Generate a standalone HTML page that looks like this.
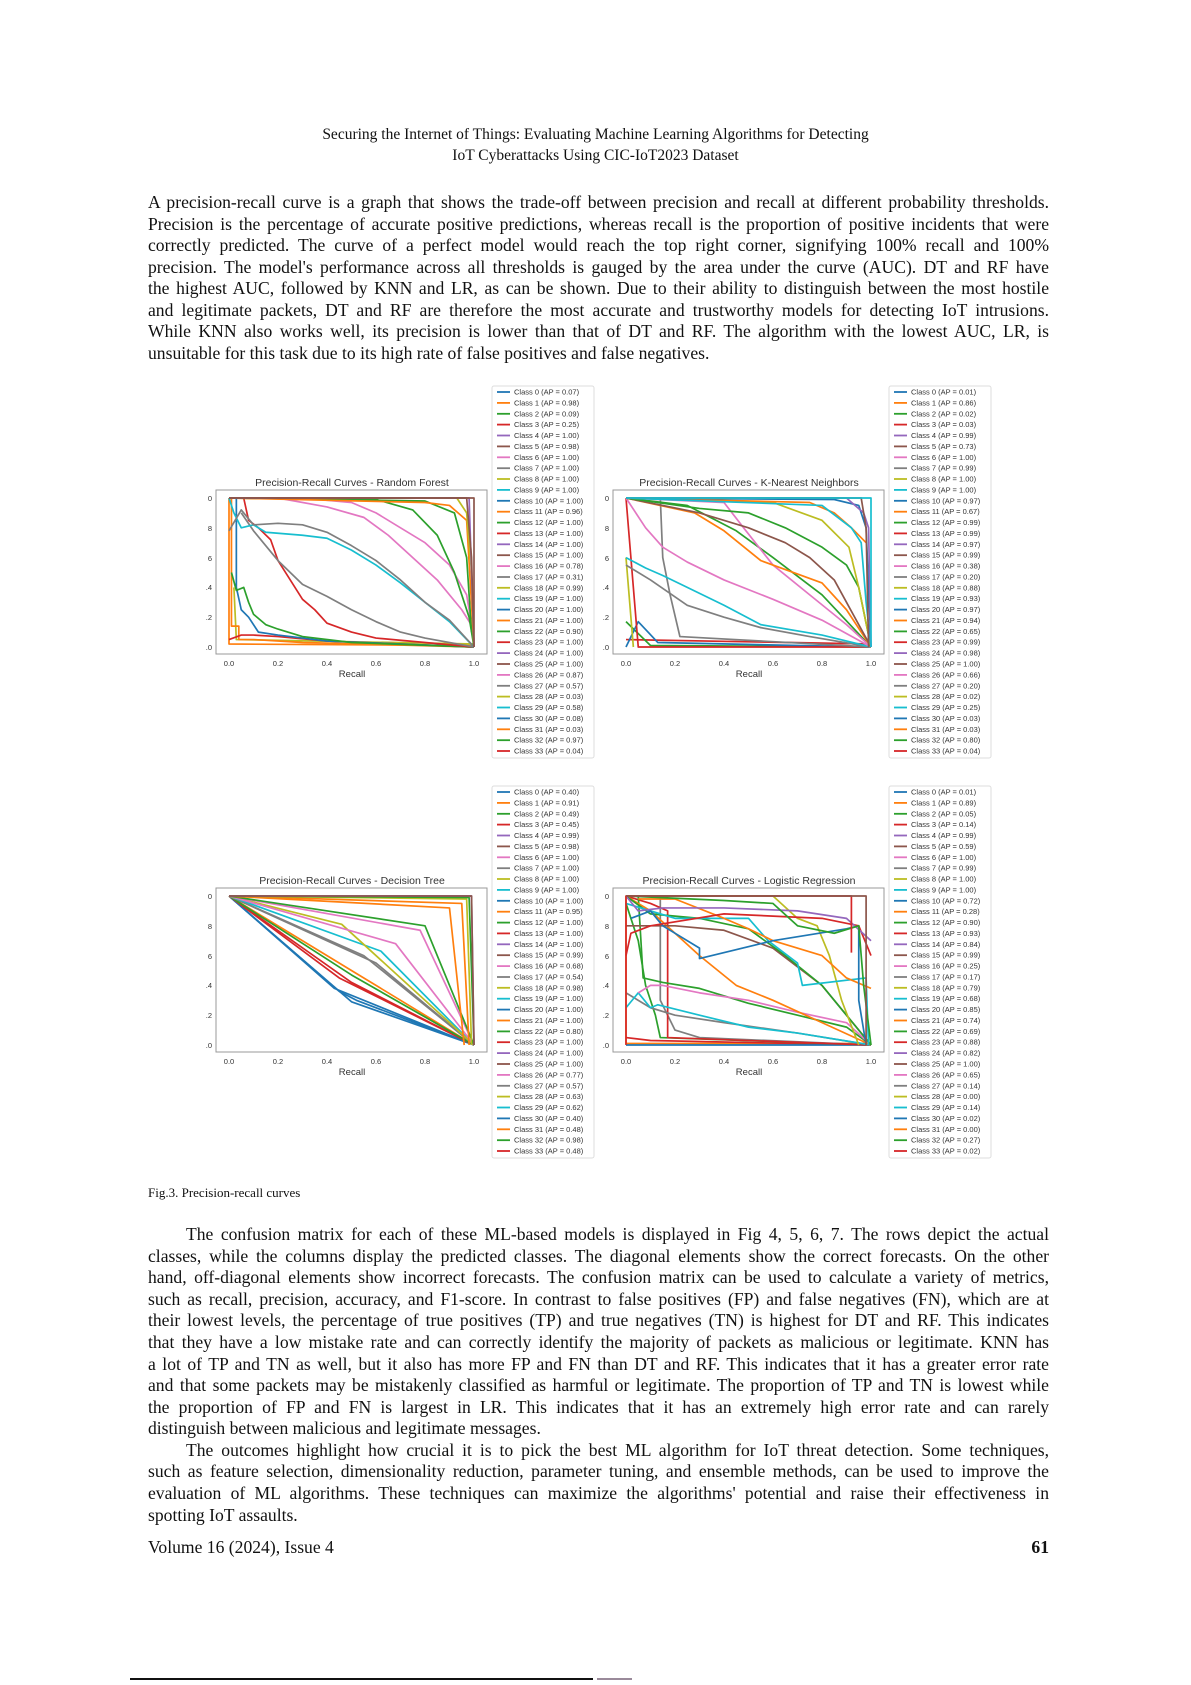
<!DOCTYPE html>
<html><head><meta charset="utf-8"><style>
html,body{margin:0;padding:0;background:#fff;}
#pg{position:relative;width:1191px;height:1685px;overflow:hidden;background:#fff;font-family:"Liberation Serif",serif;color:#111;}
.l{position:absolute;left:148px;width:901px;height:22px;line-height:22px;font-size:17.6px;white-space:nowrap;text-align:justify;text-align-last:justify;}
.l.e{text-align-last:left;}
.h{position:absolute;left:0;width:1191px;text-align:center;font-size:15.5px;line-height:18px;}
svg{position:absolute;left:0;top:0;}
svg text{font-family:"Liberation Sans",sans-serif;fill:#333;}
.c polyline{fill:none;stroke-width:1.7;vector-effect:non-scaling-stroke;stroke-linejoin:round;}
.lg text{font-size:7.5px;}
.lg line{stroke-width:1.8;}
</style></head><body><div id="pg">
<div class="h" style="top:126px">Securing the Internet of Things: Evaluating Machine Learning Algorithms for Detecting</div>
<div class="h" style="top:147px">IoT Cyberattacks Using CIC-IoT2023 Dataset</div>

<div class="l" style="top:191px">A precision-recall curve is a graph that shows the trade-off between precision and recall at different probability thresholds.</div>
<div class="l" style="top:213px">Precision is the percentage of accurate positive predictions, whereas recall is the proportion of positive incidents that were</div>
<div class="l" style="top:234px">correctly predicted. The curve of a perfect model would reach the top right corner, signifying 100% recall and 100%</div>
<div class="l" style="top:256px">precision. The model's performance across all thresholds is gauged by the area under the curve (AUC). DT and RF have</div>
<div class="l" style="top:277px">the highest AUC, followed by KNN and LR, as can be shown. Due to their ability to distinguish between the most hostile</div>
<div class="l" style="top:299px">and legitimate packets, DT and RF are therefore the most accurate and trustworthy models for detecting IoT intrusions.</div>
<div class="l" style="top:320px">While KNN also works well, its precision is lower than that of DT and RF. The algorithm with the lowest AUC, LR, is</div>
<div class="l e" style="top:342px">unsuitable for this task due to its high rate of false positives and false negatives.</div>

<div style="position:absolute;left:148px;top:1184px;font-size:13px;line-height:18px;">Fig.3. Precision-recall curves</div>

<div class="l" style="top:1223px;left:186px;width:863px">The confusion matrix for each of these ML-based models is displayed in Fig 4, 5, 6, 7. The rows depict the actual</div>
<div class="l" style="top:1245px">classes, while the columns display the predicted classes. The diagonal elements show the correct forecasts. On the other</div>
<div class="l" style="top:1266px">hand, off-diagonal elements show incorrect forecasts. The confusion matrix can be used to calculate a variety of metrics,</div>
<div class="l" style="top:1288px">such as recall, precision, accuracy, and F1-score. In contrast to false positives (FP) and false negatives (FN), which are at</div>
<div class="l" style="top:1309px">their lowest levels, the percentage of true positives (TP) and true negatives (TN) is highest for DT and RF. This indicates</div>
<div class="l" style="top:1331px">that they have a low mistake rate and can correctly identify the majority of packets as malicious or legitimate. KNN has</div>
<div class="l" style="top:1353px">a lot of TP and TN as well, but it also has more FP and FN than DT and RF. This indicates that it has a greater error rate</div>
<div class="l" style="top:1374px">and that some packets may be mistakenly classified as harmful or legitimate. The proportion of TP and TN is lowest while</div>
<div class="l" style="top:1396px">the proportion of FP and FN is largest in LR. This indicates that it has an extremely high error rate and can rarely</div>
<div class="l e" style="top:1417px">distinguish between malicious and legitimate messages.</div>
<div class="l" style="top:1439px;left:186px;width:863px">The outcomes highlight how crucial it is to pick the best ML algorithm for IoT threat detection. Some techniques,</div>
<div class="l" style="top:1460px">such as feature selection, dimensionality reduction, parameter tuning, and ensemble methods, can be used to improve the</div>
<div class="l" style="top:1482px">evaluation of ML algorithms. These techniques can maximize the algorithms' potential and raise their effectiveness in</div>
<div class="l e" style="top:1504px">spotting IoT assaults.</div>

<div style="position:absolute;left:148px;top:1536px;font-size:17.6px;line-height:22px;">Volume 16 (2024), Issue 4</div>
<div style="position:absolute;left:949px;width:100px;text-align:right;top:1536px;font-size:17.6px;line-height:22px;font-weight:bold;">61</div>
<div style="position:absolute;left:130px;top:1678px;width:463px;height:2px;background:#111;"></div>
<div style="position:absolute;left:597px;top:1678px;width:35px;height:2px;background:#9a8a9a;"></div>

<svg width="1191" height="1685" viewBox="0 0 1191 1685">
<defs>
<g id="ax">
<rect x="216" y="490" width="271" height="164" fill="none" stroke="#999" stroke-width="1"/>
<g font-size="7.5" text-anchor="end">
<text x="212" y="501">0</text><text x="212" y="531">8</text><text x="212" y="561">6</text><text x="212" y="590">.4</text><text x="212" y="620">.2</text><text x="212" y="650">.0</text>
</g>
<g font-size="7.5" text-anchor="middle">
<text x="229" y="666">0.0</text><text x="278" y="666">0.2</text><text x="327" y="666">0.4</text><text x="376" y="666">0.6</text><text x="425" y="666">0.8</text><text x="474" y="666">1.0</text>
<text x="352" y="677" font-size="9.5">Recall</text>
</g>
</g>
</defs>

<g>
<use href="#ax"/>
<text x="352" y="486" font-size="10.5" text-anchor="middle">Precision-Recall Curves - Random Forest</text>
<g class="c" transform="translate(229,647) scale(2.45,-1.49)">
<polyline stroke="#ff7f0e" points="0,100 0,2 100,1"/>
<polyline stroke="#bcbd22" points="2,40 3,5 100,2"/>
<polyline stroke="#ff7f0e" points="1,100 1,14 4,14 4,5 10,5 30,3 100,0"/>
<polyline stroke="#d62728" points="0,5 5,8 10,8 20,7 40,4 100,0"/>
<polyline stroke="#1f77b4" points="3,100 3,40 5,25 8,20 12,10 20,8 40,4 100,0"/>
<polyline stroke="#2ca02c" points="1,50 3,38 6,40 8,30 10,22 15,15 20,12 30,7 50,3 100,0"/>
<polyline stroke="#d62728" points="6,100 8,85 12,80 17,72 20,58 25,45 30,32 35,25 40,16 50,10 60,6 80,3 100,0"/>
<polyline stroke="#7f7f7f" points="5,90 10,78 15,68 20,58 30,42 40,34 50,25 60,17 70,10 80,6 100,0"/>
<polyline stroke="#17becf" points="0,100 2,90 5,80 10,82 15,77 30,75 40,73 50,65 60,55 70,43 80,30 90,17 100,0"/>
<polyline stroke="#7f7f7f" points="0,78 5,92 10,82 20,83 30,82 40,77 50,68 60,58 70,45 80,30 90,18 100,0"/>
<polyline stroke="#e377c2" points="0,100 30,100 50,97 60,90 70,80 80,70 90,55 97,35 100,5"/>
<polyline stroke="#e377c2" points="0,100 20,100 40,94 55,87 65,75 75,60 85,45 95,25 100,12"/>
<polyline stroke="#2ca02c" points="0,100 60,99 75,92 85,75 92,50 98,20 100,0"/>
<polyline stroke="#2ca02c" points="0,100 80,98 92,90 97,60 99,10"/>
<polyline stroke="#ff7f0e" points="0,100 80,97 90,95 97,85 100,0"/>
<polyline stroke="#bcbd22" points="0,100 93,100 97,90 99,50 100,0"/>
<polyline stroke="#9467bd" points="0,100 98,100 100,0"/>
<polyline stroke="#8c564b" points="0,100 97,100 99,60 100,0"/>
<polyline stroke="#8c564b" points="0,100 100,100 100,0"/>
</g>
</g>

<g transform="translate(397,0)">
<use href="#ax"/>
<text x="352" y="486" font-size="10.5" text-anchor="middle">Precision-Recall Curves - K-Nearest Neighbors</text>
<g class="c" transform="translate(229,647) scale(2.45,-1.49)">
<polyline stroke="#d62728" points="0,5 100,2"/>
<polyline stroke="#2ca02c" points="0,17 10,1 100,0"/>
<polyline stroke="#1f77b4" points="0,0 5,17 13,3 100,0"/>
<polyline stroke="#bcbd22" points="0,60 3,0"/>
<polyline stroke="#d62728" points="0,100 5,0 100,0"/>
<polyline stroke="#7f7f7f" points="14,100 15,60 18,35 22,7 100,0"/>
<polyline stroke="#7f7f7f" points="0,55 10,45 25,28 40,20 55,13 75,7 100,0"/>
<polyline stroke="#17becf" points="0,60 8,53 15,48 25,40 40,28 55,15 80,8 100,0"/>
<polyline stroke="#e377c2" points="0,100 8,80 15,67 25,57 40,45 60,32 80,18 100,0"/>
<polyline stroke="#2ca02c" points="0,100 25,95 45,78 60,60 80,35 100,0"/>
<polyline stroke="#e377c2" points="0,100 40,97 48,80 60,55 75,35 90,15 100,0"/>
<polyline stroke="#ff7f0e" points="0,100 28,90 40,78 55,58 80,43 90,25 100,0"/>
<polyline stroke="#8c564b" points="0,100 30,90 50,80 65,70 75,60 85,45 100,0"/>
<polyline stroke="#2ca02c" points="0,100 30,93 50,90 65,80 80,67 90,55 95,40 100,0"/>
<polyline stroke="#bcbd22" points="0,100 60,97 80,85 91,67 95,40 100,0"/>
<polyline stroke="#ff7f0e" points="0,100 75,97 85,90 92,80 98,70"/>
<polyline stroke="#17becf" points="0,100 80,95 92,80 96,70 98,30 100,0"/>
<polyline stroke="#1f77b4" points="0,100 85,99 95,95 98,80 100,0"/>
<polyline stroke="#9467bd" points="0,100 90,100 97,90 99,80 100,0"/>
<polyline stroke="#8c564b" points="0,100 96,100 98,80 99,0"/>
<polyline stroke="#17becf" points="0,100 100,100 100,0"/>
</g>
</g>

<g transform="translate(0,398)">
<use href="#ax"/>
<text x="352" y="486" font-size="10.5" text-anchor="middle">Precision-Recall Curves - Decision Tree</text>
<g class="c" transform="translate(229,647) scale(2.45,-1.49)">
<polyline stroke="#1f77b4" points="0,100 43,38 100,0"/>
<polyline stroke="#1f77b4" points="0,100 45,36 52,30 100,0"/>
<polyline stroke="#1f77b4" points="0,100 50,29 100,0"/>
<polyline stroke="#d62728" points="0,100 50,42 100,0"/>
<polyline stroke="#d62728" points="0,100 45,45 100,0"/>
<polyline stroke="#ff7f0e" points="0,100 52,48 100,0"/>
<polyline stroke="#2ca02c" points="0,100 50,47 100,0"/>
<polyline stroke="#7f7f7f" points="0,100 60,55 100,0"/>
<polyline stroke="#7f7f7f" points="0,100 55,60 100,0"/>
<polyline stroke="#17becf" points="0,100 62,63 100,0"/>
<polyline stroke="#bcbd22" points="0,100 46,81 100,0"/>
<polyline stroke="#e377c2" points="0,100 68,68 100,0"/>
<polyline stroke="#e377c2" points="0,100 78,77 100,0"/>
<polyline stroke="#2ca02c" points="0,100 80,80 100,0"/>
<polyline stroke="#ff7f0e" points="0,100 90,92 96,0"/>
<polyline stroke="#ff7f0e" points="0,100 95,95 98,0"/>
<polyline stroke="#bcbd22" points="0,100 97,98 99,0"/>
<polyline stroke="#2ca02c" points="0,100 98,99 100,0"/>
<polyline stroke="#9467bd" points="0,100 99,100 100,0"/>
<polyline stroke="#8c564b" points="0,100 99,100 100,0"/>
</g>
</g>

<g transform="translate(397,398)">
<use href="#ax"/>
<text x="352" y="486" font-size="10.5" text-anchor="middle">Precision-Recall Curves - Logistic Regression</text>
<g class="c" transform="translate(229,647) scale(2.45,-1.49)">
<polyline stroke="#ff7f0e" points="0,100 0,1 100,1"/>
<polyline stroke="#d62728" points="0,5 10,3 100,0"/>
<polyline stroke="#1f77b4" points="0,0 100,0"/>
<polyline stroke="#2ca02c" points="0,95 5,70 8,40 12,20 14,5 100,0"/>
<polyline stroke="#7f7f7f" points="14,100 14,30 20,10 30,5 100,0"/>
<polyline stroke="#d62728" points="0,100 10,95 17,90 17,5 100,0"/>
<polyline stroke="#7f7f7f" points="0,35 10,25 20,20 40,15 70,8 100,0"/>
<polyline stroke="#17becf" points="0,25 5,35 10,25 13,27 30,20 50,12 70,8 100,0"/>
<polyline stroke="#2ca02c" points="5,100 7,45 15,42 30,38 50,28 70,20 90,12 100,0"/>
<polyline stroke="#e377c2" points="5,35 10,40 15,40 30,35 50,30 70,22 90,15 100,0"/>
<polyline stroke="#ff7f0e" points="0,100 10,90 20,75 30,60 45,40 60,30 80,15 100,0"/>
<polyline stroke="#8c564b" points="0,80 10,80 20,80 40,77 60,65 80,40 95,10 100,0"/>
<polyline stroke="#2ca02c" points="0,100 10,88 30,85 50,78 65,60 80,40 100,0"/>
<polyline stroke="#bcbd22" points="0,100 60,100 70,85 78,80 83,60 88,30 95,0"/>
<polyline stroke="#17becf" points="0,95 20,85 50,85 58,70 70,55 72,40 98,45 99,0"/>
<polyline stroke="#ff7f0e" points="5,98 20,98 40,85 50,78 60,70 80,60 90,45 100,38"/>
<polyline stroke="#1f77b4" points="2,85 10,90 15,80 30,65 30,58 60,70 90,78 95,80 95,30 98,0"/>
<polyline stroke="#d62728" points="0,60 2,75 10,80 40,88 80,85 95,80 100,60"/>
<polyline stroke="#9467bd" points="0,100 5,90 15,92 40,92 70,90 90,85 100,70"/>
<polyline stroke="#2ca02c" points="0,100 40,97 60,95 70,80 85,75 95,80 97,40 100,0"/>
<polyline stroke="#d62728" points="0,0 0,100 92,100 92,62"/>
<polyline stroke="#8c564b" points="0,100 98,100 98,0"/>
</g>
</g>

<g class="lg">
<rect x="492" y="386" width="102" height="372" fill="#fff" stroke="#ddd" rx="2"/>
<line x1="497" x2="510" y1="392" y2="392" stroke="#1f77b4"/><text x="514" y="394.5">Class 0 (AP = 0.07)</text>
<line x1="497" x2="510" y1="402.9" y2="402.9" stroke="#ff7f0e"/><text x="514" y="405.4">Class 1 (AP = 0.98)</text>
<line x1="497" x2="510" y1="413.8" y2="413.8" stroke="#2ca02c"/><text x="514" y="416.3">Class 2 (AP = 0.09)</text>
<line x1="497" x2="510" y1="424.6" y2="424.6" stroke="#d62728"/><text x="514" y="427.1">Class 3 (AP = 0.25)</text>
<line x1="497" x2="510" y1="435.5" y2="435.5" stroke="#9467bd"/><text x="514" y="438">Class 4 (AP = 1.00)</text>
<line x1="497" x2="510" y1="446.4" y2="446.4" stroke="#8c564b"/><text x="514" y="448.9">Class 5 (AP = 0.98)</text>
<line x1="497" x2="510" y1="457.3" y2="457.3" stroke="#e377c2"/><text x="514" y="459.8">Class 6 (AP = 1.00)</text>
<line x1="497" x2="510" y1="468.2" y2="468.2" stroke="#7f7f7f"/><text x="514" y="470.7">Class 7 (AP = 1.00)</text>
<line x1="497" x2="510" y1="479" y2="479" stroke="#bcbd22"/><text x="514" y="481.5">Class 8 (AP = 1.00)</text>
<line x1="497" x2="510" y1="489.9" y2="489.9" stroke="#17becf"/><text x="514" y="492.4">Class 9 (AP = 1.00)</text>
<line x1="497" x2="510" y1="500.8" y2="500.8" stroke="#1f77b4"/><text x="514" y="503.3">Class 10 (AP = 1.00)</text>
<line x1="497" x2="510" y1="511.7" y2="511.7" stroke="#ff7f0e"/><text x="514" y="514.2">Class 11 (AP = 0.96)</text>
<line x1="497" x2="510" y1="522.6" y2="522.6" stroke="#2ca02c"/><text x="514" y="525.1">Class 12 (AP = 1.00)</text>
<line x1="497" x2="510" y1="533.4" y2="533.4" stroke="#d62728"/><text x="514" y="535.9">Class 13 (AP = 1.00)</text>
<line x1="497" x2="510" y1="544.3" y2="544.3" stroke="#9467bd"/><text x="514" y="546.8">Class 14 (AP = 1.00)</text>
<line x1="497" x2="510" y1="555.2" y2="555.2" stroke="#8c564b"/><text x="514" y="557.7">Class 15 (AP = 1.00)</text>
<line x1="497" x2="510" y1="566.1" y2="566.1" stroke="#e377c2"/><text x="514" y="568.6">Class 16 (AP = 0.78)</text>
<line x1="497" x2="510" y1="577" y2="577" stroke="#7f7f7f"/><text x="514" y="579.5">Class 17 (AP = 0.31)</text>
<line x1="497" x2="510" y1="587.8" y2="587.8" stroke="#bcbd22"/><text x="514" y="590.3">Class 18 (AP = 0.99)</text>
<line x1="497" x2="510" y1="598.7" y2="598.7" stroke="#17becf"/><text x="514" y="601.2">Class 19 (AP = 1.00)</text>
<line x1="497" x2="510" y1="609.6" y2="609.6" stroke="#1f77b4"/><text x="514" y="612.1">Class 20 (AP = 1.00)</text>
<line x1="497" x2="510" y1="620.5" y2="620.5" stroke="#ff7f0e"/><text x="514" y="623">Class 21 (AP = 1.00)</text>
<line x1="497" x2="510" y1="631.4" y2="631.4" stroke="#2ca02c"/><text x="514" y="633.9">Class 22 (AP = 0.90)</text>
<line x1="497" x2="510" y1="642.2" y2="642.2" stroke="#d62728"/><text x="514" y="644.7">Class 23 (AP = 1.00)</text>
<line x1="497" x2="510" y1="653.1" y2="653.1" stroke="#9467bd"/><text x="514" y="655.6">Class 24 (AP = 1.00)</text>
<line x1="497" x2="510" y1="664" y2="664" stroke="#8c564b"/><text x="514" y="666.5">Class 25 (AP = 1.00)</text>
<line x1="497" x2="510" y1="674.9" y2="674.9" stroke="#e377c2"/><text x="514" y="677.4">Class 26 (AP = 0.87)</text>
<line x1="497" x2="510" y1="685.8" y2="685.8" stroke="#7f7f7f"/><text x="514" y="688.3">Class 27 (AP = 0.57)</text>
<line x1="497" x2="510" y1="696.6" y2="696.6" stroke="#bcbd22"/><text x="514" y="699.1">Class 28 (AP = 0.03)</text>
<line x1="497" x2="510" y1="707.5" y2="707.5" stroke="#17becf"/><text x="514" y="710">Class 29 (AP = 0.58)</text>
<line x1="497" x2="510" y1="718.4" y2="718.4" stroke="#1f77b4"/><text x="514" y="720.9">Class 30 (AP = 0.08)</text>
<line x1="497" x2="510" y1="729.3" y2="729.3" stroke="#ff7f0e"/><text x="514" y="731.8">Class 31 (AP = 0.03)</text>
<line x1="497" x2="510" y1="740.2" y2="740.2" stroke="#2ca02c"/><text x="514" y="742.7">Class 32 (AP = 0.97)</text>
<line x1="497" x2="510" y1="751" y2="751" stroke="#d62728"/><text x="514" y="753.5">Class 33 (AP = 0.04)</text>
</g>

<g class="lg" transform="translate(397,0)">
<rect x="492" y="386" width="102" height="372" fill="#fff" stroke="#ddd" rx="2"/>
<line x1="497" x2="510" y1="392" y2="392" stroke="#1f77b4"/><text x="514" y="394.5">Class 0 (AP = 0.01)</text>
<line x1="497" x2="510" y1="402.9" y2="402.9" stroke="#ff7f0e"/><text x="514" y="405.4">Class 1 (AP = 0.86)</text>
<line x1="497" x2="510" y1="413.8" y2="413.8" stroke="#2ca02c"/><text x="514" y="416.3">Class 2 (AP = 0.02)</text>
<line x1="497" x2="510" y1="424.6" y2="424.6" stroke="#d62728"/><text x="514" y="427.1">Class 3 (AP = 0.03)</text>
<line x1="497" x2="510" y1="435.5" y2="435.5" stroke="#9467bd"/><text x="514" y="438">Class 4 (AP = 0.99)</text>
<line x1="497" x2="510" y1="446.4" y2="446.4" stroke="#8c564b"/><text x="514" y="448.9">Class 5 (AP = 0.73)</text>
<line x1="497" x2="510" y1="457.3" y2="457.3" stroke="#e377c2"/><text x="514" y="459.8">Class 6 (AP = 1.00)</text>
<line x1="497" x2="510" y1="468.2" y2="468.2" stroke="#7f7f7f"/><text x="514" y="470.7">Class 7 (AP = 0.99)</text>
<line x1="497" x2="510" y1="479" y2="479" stroke="#bcbd22"/><text x="514" y="481.5">Class 8 (AP = 1.00)</text>
<line x1="497" x2="510" y1="489.9" y2="489.9" stroke="#17becf"/><text x="514" y="492.4">Class 9 (AP = 1.00)</text>
<line x1="497" x2="510" y1="500.8" y2="500.8" stroke="#1f77b4"/><text x="514" y="503.3">Class 10 (AP = 0.97)</text>
<line x1="497" x2="510" y1="511.7" y2="511.7" stroke="#ff7f0e"/><text x="514" y="514.2">Class 11 (AP = 0.67)</text>
<line x1="497" x2="510" y1="522.6" y2="522.6" stroke="#2ca02c"/><text x="514" y="525.1">Class 12 (AP = 0.99)</text>
<line x1="497" x2="510" y1="533.4" y2="533.4" stroke="#d62728"/><text x="514" y="535.9">Class 13 (AP = 0.99)</text>
<line x1="497" x2="510" y1="544.3" y2="544.3" stroke="#9467bd"/><text x="514" y="546.8">Class 14 (AP = 0.97)</text>
<line x1="497" x2="510" y1="555.2" y2="555.2" stroke="#8c564b"/><text x="514" y="557.7">Class 15 (AP = 0.99)</text>
<line x1="497" x2="510" y1="566.1" y2="566.1" stroke="#e377c2"/><text x="514" y="568.6">Class 16 (AP = 0.38)</text>
<line x1="497" x2="510" y1="577" y2="577" stroke="#7f7f7f"/><text x="514" y="579.5">Class 17 (AP = 0.20)</text>
<line x1="497" x2="510" y1="587.8" y2="587.8" stroke="#bcbd22"/><text x="514" y="590.3">Class 18 (AP = 0.88)</text>
<line x1="497" x2="510" y1="598.7" y2="598.7" stroke="#17becf"/><text x="514" y="601.2">Class 19 (AP = 0.93)</text>
<line x1="497" x2="510" y1="609.6" y2="609.6" stroke="#1f77b4"/><text x="514" y="612.1">Class 20 (AP = 0.97)</text>
<line x1="497" x2="510" y1="620.5" y2="620.5" stroke="#ff7f0e"/><text x="514" y="623">Class 21 (AP = 0.94)</text>
<line x1="497" x2="510" y1="631.4" y2="631.4" stroke="#2ca02c"/><text x="514" y="633.9">Class 22 (AP = 0.65)</text>
<line x1="497" x2="510" y1="642.2" y2="642.2" stroke="#d62728"/><text x="514" y="644.7">Class 23 (AP = 0.99)</text>
<line x1="497" x2="510" y1="653.1" y2="653.1" stroke="#9467bd"/><text x="514" y="655.6">Class 24 (AP = 0.98)</text>
<line x1="497" x2="510" y1="664" y2="664" stroke="#8c564b"/><text x="514" y="666.5">Class 25 (AP = 1.00)</text>
<line x1="497" x2="510" y1="674.9" y2="674.9" stroke="#e377c2"/><text x="514" y="677.4">Class 26 (AP = 0.66)</text>
<line x1="497" x2="510" y1="685.8" y2="685.8" stroke="#7f7f7f"/><text x="514" y="688.3">Class 27 (AP = 0.20)</text>
<line x1="497" x2="510" y1="696.6" y2="696.6" stroke="#bcbd22"/><text x="514" y="699.1">Class 28 (AP = 0.02)</text>
<line x1="497" x2="510" y1="707.5" y2="707.5" stroke="#17becf"/><text x="514" y="710">Class 29 (AP = 0.25)</text>
<line x1="497" x2="510" y1="718.4" y2="718.4" stroke="#1f77b4"/><text x="514" y="720.9">Class 30 (AP = 0.03)</text>
<line x1="497" x2="510" y1="729.3" y2="729.3" stroke="#ff7f0e"/><text x="514" y="731.8">Class 31 (AP = 0.03)</text>
<line x1="497" x2="510" y1="740.2" y2="740.2" stroke="#2ca02c"/><text x="514" y="742.7">Class 32 (AP = 0.80)</text>
<line x1="497" x2="510" y1="751" y2="751" stroke="#d62728"/><text x="514" y="753.5">Class 33 (AP = 0.04)</text>
</g>

<g class="lg" transform="translate(0,400)">
<rect x="492" y="386" width="102" height="372" fill="#fff" stroke="#ddd" rx="2"/>
<line x1="497" x2="510" y1="392" y2="392" stroke="#1f77b4"/><text x="514" y="394.5">Class 0 (AP = 0.40)</text>
<line x1="497" x2="510" y1="402.9" y2="402.9" stroke="#ff7f0e"/><text x="514" y="405.4">Class 1 (AP = 0.91)</text>
<line x1="497" x2="510" y1="413.8" y2="413.8" stroke="#2ca02c"/><text x="514" y="416.3">Class 2 (AP = 0.49)</text>
<line x1="497" x2="510" y1="424.6" y2="424.6" stroke="#d62728"/><text x="514" y="427.1">Class 3 (AP = 0.45)</text>
<line x1="497" x2="510" y1="435.5" y2="435.5" stroke="#9467bd"/><text x="514" y="438">Class 4 (AP = 0.99)</text>
<line x1="497" x2="510" y1="446.4" y2="446.4" stroke="#8c564b"/><text x="514" y="448.9">Class 5 (AP = 0.98)</text>
<line x1="497" x2="510" y1="457.3" y2="457.3" stroke="#e377c2"/><text x="514" y="459.8">Class 6 (AP = 1.00)</text>
<line x1="497" x2="510" y1="468.2" y2="468.2" stroke="#7f7f7f"/><text x="514" y="470.7">Class 7 (AP = 1.00)</text>
<line x1="497" x2="510" y1="479" y2="479" stroke="#bcbd22"/><text x="514" y="481.5">Class 8 (AP = 1.00)</text>
<line x1="497" x2="510" y1="489.9" y2="489.9" stroke="#17becf"/><text x="514" y="492.4">Class 9 (AP = 1.00)</text>
<line x1="497" x2="510" y1="500.8" y2="500.8" stroke="#1f77b4"/><text x="514" y="503.3">Class 10 (AP = 1.00)</text>
<line x1="497" x2="510" y1="511.7" y2="511.7" stroke="#ff7f0e"/><text x="514" y="514.2">Class 11 (AP = 0.95)</text>
<line x1="497" x2="510" y1="522.6" y2="522.6" stroke="#2ca02c"/><text x="514" y="525.1">Class 12 (AP = 1.00)</text>
<line x1="497" x2="510" y1="533.4" y2="533.4" stroke="#d62728"/><text x="514" y="535.9">Class 13 (AP = 1.00)</text>
<line x1="497" x2="510" y1="544.3" y2="544.3" stroke="#9467bd"/><text x="514" y="546.8">Class 14 (AP = 1.00)</text>
<line x1="497" x2="510" y1="555.2" y2="555.2" stroke="#8c564b"/><text x="514" y="557.7">Class 15 (AP = 0.99)</text>
<line x1="497" x2="510" y1="566.1" y2="566.1" stroke="#e377c2"/><text x="514" y="568.6">Class 16 (AP = 0.68)</text>
<line x1="497" x2="510" y1="577" y2="577" stroke="#7f7f7f"/><text x="514" y="579.5">Class 17 (AP = 0.54)</text>
<line x1="497" x2="510" y1="587.8" y2="587.8" stroke="#bcbd22"/><text x="514" y="590.3">Class 18 (AP = 0.98)</text>
<line x1="497" x2="510" y1="598.7" y2="598.7" stroke="#17becf"/><text x="514" y="601.2">Class 19 (AP = 1.00)</text>
<line x1="497" x2="510" y1="609.6" y2="609.6" stroke="#1f77b4"/><text x="514" y="612.1">Class 20 (AP = 1.00)</text>
<line x1="497" x2="510" y1="620.5" y2="620.5" stroke="#ff7f0e"/><text x="514" y="623">Class 21 (AP = 1.00)</text>
<line x1="497" x2="510" y1="631.4" y2="631.4" stroke="#2ca02c"/><text x="514" y="633.9">Class 22 (AP = 0.80)</text>
<line x1="497" x2="510" y1="642.2" y2="642.2" stroke="#d62728"/><text x="514" y="644.7">Class 23 (AP = 1.00)</text>
<line x1="497" x2="510" y1="653.1" y2="653.1" stroke="#9467bd"/><text x="514" y="655.6">Class 24 (AP = 1.00)</text>
<line x1="497" x2="510" y1="664" y2="664" stroke="#8c564b"/><text x="514" y="666.5">Class 25 (AP = 1.00)</text>
<line x1="497" x2="510" y1="674.9" y2="674.9" stroke="#e377c2"/><text x="514" y="677.4">Class 26 (AP = 0.77)</text>
<line x1="497" x2="510" y1="685.8" y2="685.8" stroke="#7f7f7f"/><text x="514" y="688.3">Class 27 (AP = 0.57)</text>
<line x1="497" x2="510" y1="696.6" y2="696.6" stroke="#bcbd22"/><text x="514" y="699.1">Class 28 (AP = 0.63)</text>
<line x1="497" x2="510" y1="707.5" y2="707.5" stroke="#17becf"/><text x="514" y="710">Class 29 (AP = 0.62)</text>
<line x1="497" x2="510" y1="718.4" y2="718.4" stroke="#1f77b4"/><text x="514" y="720.9">Class 30 (AP = 0.40)</text>
<line x1="497" x2="510" y1="729.3" y2="729.3" stroke="#ff7f0e"/><text x="514" y="731.8">Class 31 (AP = 0.48)</text>
<line x1="497" x2="510" y1="740.2" y2="740.2" stroke="#2ca02c"/><text x="514" y="742.7">Class 32 (AP = 0.98)</text>
<line x1="497" x2="510" y1="751" y2="751" stroke="#d62728"/><text x="514" y="753.5">Class 33 (AP = 0.48)</text>
</g>

<g class="lg" transform="translate(397,400)">
<rect x="492" y="386" width="102" height="372" fill="#fff" stroke="#ddd" rx="2"/>
<line x1="497" x2="510" y1="392" y2="392" stroke="#1f77b4"/><text x="514" y="394.5">Class 0 (AP = 0.01)</text>
<line x1="497" x2="510" y1="402.9" y2="402.9" stroke="#ff7f0e"/><text x="514" y="405.4">Class 1 (AP = 0.89)</text>
<line x1="497" x2="510" y1="413.8" y2="413.8" stroke="#2ca02c"/><text x="514" y="416.3">Class 2 (AP = 0.05)</text>
<line x1="497" x2="510" y1="424.6" y2="424.6" stroke="#d62728"/><text x="514" y="427.1">Class 3 (AP = 0.14)</text>
<line x1="497" x2="510" y1="435.5" y2="435.5" stroke="#9467bd"/><text x="514" y="438">Class 4 (AP = 0.99)</text>
<line x1="497" x2="510" y1="446.4" y2="446.4" stroke="#8c564b"/><text x="514" y="448.9">Class 5 (AP = 0.59)</text>
<line x1="497" x2="510" y1="457.3" y2="457.3" stroke="#e377c2"/><text x="514" y="459.8">Class 6 (AP = 1.00)</text>
<line x1="497" x2="510" y1="468.2" y2="468.2" stroke="#7f7f7f"/><text x="514" y="470.7">Class 7 (AP = 0.99)</text>
<line x1="497" x2="510" y1="479" y2="479" stroke="#bcbd22"/><text x="514" y="481.5">Class 8 (AP = 1.00)</text>
<line x1="497" x2="510" y1="489.9" y2="489.9" stroke="#17becf"/><text x="514" y="492.4">Class 9 (AP = 1.00)</text>
<line x1="497" x2="510" y1="500.8" y2="500.8" stroke="#1f77b4"/><text x="514" y="503.3">Class 10 (AP = 0.72)</text>
<line x1="497" x2="510" y1="511.7" y2="511.7" stroke="#ff7f0e"/><text x="514" y="514.2">Class 11 (AP = 0.28)</text>
<line x1="497" x2="510" y1="522.6" y2="522.6" stroke="#2ca02c"/><text x="514" y="525.1">Class 12 (AP = 0.90)</text>
<line x1="497" x2="510" y1="533.4" y2="533.4" stroke="#d62728"/><text x="514" y="535.9">Class 13 (AP = 0.93)</text>
<line x1="497" x2="510" y1="544.3" y2="544.3" stroke="#9467bd"/><text x="514" y="546.8">Class 14 (AP = 0.84)</text>
<line x1="497" x2="510" y1="555.2" y2="555.2" stroke="#8c564b"/><text x="514" y="557.7">Class 15 (AP = 0.99)</text>
<line x1="497" x2="510" y1="566.1" y2="566.1" stroke="#e377c2"/><text x="514" y="568.6">Class 16 (AP = 0.25)</text>
<line x1="497" x2="510" y1="577" y2="577" stroke="#7f7f7f"/><text x="514" y="579.5">Class 17 (AP = 0.17)</text>
<line x1="497" x2="510" y1="587.8" y2="587.8" stroke="#bcbd22"/><text x="514" y="590.3">Class 18 (AP = 0.79)</text>
<line x1="497" x2="510" y1="598.7" y2="598.7" stroke="#17becf"/><text x="514" y="601.2">Class 19 (AP = 0.68)</text>
<line x1="497" x2="510" y1="609.6" y2="609.6" stroke="#1f77b4"/><text x="514" y="612.1">Class 20 (AP = 0.85)</text>
<line x1="497" x2="510" y1="620.5" y2="620.5" stroke="#ff7f0e"/><text x="514" y="623">Class 21 (AP = 0.74)</text>
<line x1="497" x2="510" y1="631.4" y2="631.4" stroke="#2ca02c"/><text x="514" y="633.9">Class 22 (AP = 0.69)</text>
<line x1="497" x2="510" y1="642.2" y2="642.2" stroke="#d62728"/><text x="514" y="644.7">Class 23 (AP = 0.88)</text>
<line x1="497" x2="510" y1="653.1" y2="653.1" stroke="#9467bd"/><text x="514" y="655.6">Class 24 (AP = 0.82)</text>
<line x1="497" x2="510" y1="664" y2="664" stroke="#8c564b"/><text x="514" y="666.5">Class 25 (AP = 1.00)</text>
<line x1="497" x2="510" y1="674.9" y2="674.9" stroke="#e377c2"/><text x="514" y="677.4">Class 26 (AP = 0.65)</text>
<line x1="497" x2="510" y1="685.8" y2="685.8" stroke="#7f7f7f"/><text x="514" y="688.3">Class 27 (AP = 0.14)</text>
<line x1="497" x2="510" y1="696.6" y2="696.6" stroke="#bcbd22"/><text x="514" y="699.1">Class 28 (AP = 0.00)</text>
<line x1="497" x2="510" y1="707.5" y2="707.5" stroke="#17becf"/><text x="514" y="710">Class 29 (AP = 0.14)</text>
<line x1="497" x2="510" y1="718.4" y2="718.4" stroke="#1f77b4"/><text x="514" y="720.9">Class 30 (AP = 0.02)</text>
<line x1="497" x2="510" y1="729.3" y2="729.3" stroke="#ff7f0e"/><text x="514" y="731.8">Class 31 (AP = 0.00)</text>
<line x1="497" x2="510" y1="740.2" y2="740.2" stroke="#2ca02c"/><text x="514" y="742.7">Class 32 (AP = 0.27)</text>
<line x1="497" x2="510" y1="751" y2="751" stroke="#d62728"/><text x="514" y="753.5">Class 33 (AP = 0.02)</text>
</g>
</svg>
</div></body></html>
